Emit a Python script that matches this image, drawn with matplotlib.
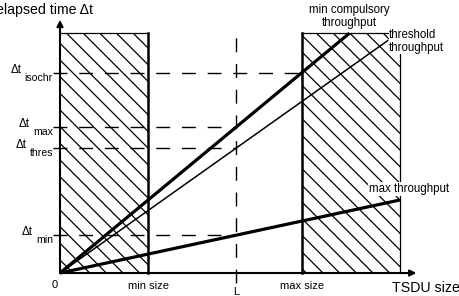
import matplotlib
matplotlib.use("Agg")
import matplotlib.pyplot as plt
from matplotlib.patches import Rectangle

plt.rcParams["font.family"] = ["Liberation Sans", "DejaVu Sans"]
plt.rcParams["hatch.linewidth"] = 0.9

# sizes along the x axis (schematic units)
min_size = 1.0
L = 2.0
max_size = 2.75
box_right = 3.86
x_end = 4.05
t_top = 4.0  # top of the hatched boxes

# elapsed time at size L for each throughput line
throughput_names = ["min compulsory", "threshold", "max"]
dt_at_L = [2.43, 2.08, 0.63]
line_end_x = [3.29, 3.73, 3.86]
line_widths = [2.3, 1.1, 2.3]

# labelled levels on the y axis
dt_labels = ["isochr", "max", "thres", "min"]
dt_values = [dt_at_L[0] * max_size / L, dt_at_L[0], dt_at_L[1], dt_at_L[2]]
dt_until = [max_size, L, L, L]

px = 0.72  # one pixel in points at 100 dpi
dash = (10, 8.5)

fig = plt.figure(figsize=(4.59, 2.96), dpi=100)
ax = fig.add_axes([0, 0, 1, 1])
ax.set_xlim(-60 / 88, 399 / 88)
ax.set_ylim(-23 / 60, 273 / 60)
ax.axis("off")

# hatched forbidden regions
for x0, x1 in [(0, min_size), (max_size, box_right)]:
    ax.add_patch(Rectangle((x0, 0), x1 - x0, t_top, fill=False, hatch="\\\\",
                           edgecolor="black", lw=0, zorder=1))
ax.plot([0, min_size], [t_top, t_top], color="black", lw=0.9, zorder=2)
ax.plot([min_size, min_size], [0, t_top], color="black", lw=1.8, zorder=2)
ax.plot([max_size, box_right, box_right], [t_top, t_top, 0], color="black", lw=0.9, zorder=2)
ax.plot([max_size, max_size], [0, t_top], color="black", lw=1.8, zorder=2)

# axes with arrows
ax.annotate("", xy=(0, 4.22), xytext=(0, 0),
            arrowprops=dict(arrowstyle="-|>", color="black", lw=1.5, mutation_scale=9,
                            shrinkA=0, shrinkB=0), zorder=3)
ax.annotate("", xy=(x_end, 0), xytext=(0, 0),
            arrowprops=dict(arrowstyle="-|>", color="black", lw=1.5, mutation_scale=9,
                            shrinkA=0, shrinkB=0), zorder=3)

# dashed guide lines
for dt, xe in zip(dt_values, dt_until):
    ax.plot([-0.08, xe], [dt, dt], color="black", lw=1.0, dashes=dash, zorder=2)
ax.plot([L, L], [-0.17, 3.97], color="black", lw=1.0, dashes=dash, zorder=2)

# throughput lines
for dtl, xe, lw in zip(dt_at_L, line_end_x, line_widths):
    ax.plot([0, xe], [0, dtl * xe / L], color="black", lw=lw,
            solid_capstyle="butt", zorder=4)

# line labels
ends = [(xe, dtl * xe / L) for dtl, xe in zip(dt_at_L, line_end_x)]
ax.annotate("min compulsory\nthroughput", xy=ends[0], xytext=(0, 17 * px),
            textcoords="offset points", ha="center", va="center", fontsize=8.3,
            linespacing=1.1)
ax.annotate("threshold\nthroughput", xy=ends[1], xytext=(1 * px, -1 * px),
            textcoords="offset points", ha="left", va="center", fontsize=8.3,
            linespacing=1.1, zorder=5,
            bbox=dict(boxstyle="square,pad=0.05", fc="white", ec="none"))
ax.annotate("max throughput", xy=ends[2], xytext=(9 * px, 11 * px),
            textcoords="offset points", ha="center", va="center", fontsize=8.3, zorder=5,
            bbox=dict(boxstyle="square,pad=0.05", fc="white", ec="none"))

# y level labels
for name, dt in zip(dt_labels, dt_values):
    sub = ax.annotate(name, xy=(0, dt), xytext=(-7 * px, -5 * px),
                      textcoords="offset points", ha="right", va="center", fontsize=7.6)
    ax.annotate("\u0394t", xy=(0, 0.5), xycoords=sub, xytext=(-3 * px, 8 * px),
                textcoords="offset points", ha="right", va="center", fontsize=8.3)

# axis labels
ax.annotate("elapsed time \u0394t", xy=(0, 4.22), xytext=(33 * px, 10 * px),
            textcoords="offset points", ha="right", va="center", fontsize=10.2)
ax.annotate("TSDU size", xy=(x_end, 0), xytext=(-24 * px, -15 * px),
            textcoords="offset points", ha="left", va="center", fontsize=10.2)
ax.annotate("0", xy=(0, 0), xytext=(-5 * px, -12 * px),
            textcoords="offset points", ha="center", va="center", fontsize=8)
for lab, xv, dy in [("min size", min_size, -13), ("max size", max_size, -13), ("L", L, -19)]:
    ax.annotate(lab, xy=(xv, 0), xytext=(0, dy * px), textcoords="offset points",
                ha="center", va="center", fontsize=8)

fig.savefig("out.png", dpi=100)
